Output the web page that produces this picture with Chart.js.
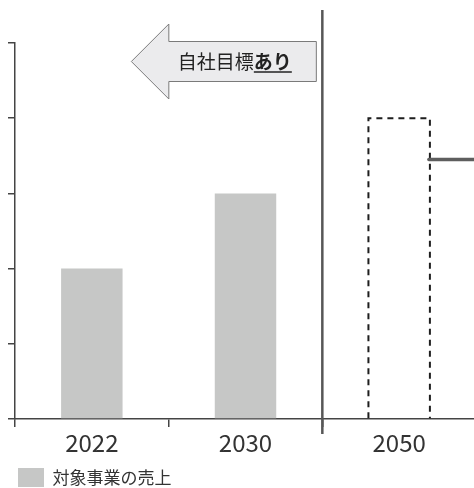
<!DOCTYPE html>
<html>
<head>
<meta charset="utf-8">
<script src="https://cdn.jsdelivr.net/npm/chart.js@4"></script>
<style>
html, body { margin: 0; padding: 0; overflow: hidden; background: #fff; }
canvas { display: block; }
</style>
</head>
<body>
<canvas id="salesChart" width="478" height="497"></canvas>
<script>
const years = ['2022', '2030', '2050'];
const salesValues = [2, 3, null];     // 対象事業の売上
const targetValues = [null, null, 4]; // 2050 target (dashed)
const yTicks = [0, 1, 2, 3, 4, 5];
const connectorValue = 3.45;
const legendLabel = '対象事業の売上';
const arrowLabel = '自社目標';
const arrowLabelBold = 'あり';

const FONT = '"Noto Sans CJK JP", "Noto Sans", sans-serif';
const AXIS = '#444';

// dashed target bar, divider, connector and the arrow callout
const extrasPlugin = {
    id: 'extras',
    afterDatasetsDraw(chart) {
        const ctx = chart.ctx;
        const xScale = chart.scales.x;
        const yScale = chart.scales.y;
        const area = chart.chartArea;
        let barRight = area.right;

        ctx.save();
        ctx.strokeStyle = '#1e1e1e';
        ctx.lineWidth = 2;
        ctx.setLineDash([6, 5]);
        chart.getDatasetMeta(1).data.forEach((bar, i) => {
            if (targetValues[i] == null) return;
            const p = bar.getProps(['x', 'y', 'base', 'width'], true);
            const l = p.x - p.width / 2, r = p.x + p.width / 2;
            barRight = r;
            ctx.beginPath();
            ctx.moveTo(l, p.base);
            ctx.lineTo(l, p.y);
            ctx.lineTo(r, p.y);
            ctx.lineTo(r, p.base);
            ctx.stroke();
        });
        ctx.setLineDash([]);

        // connector going off to the right
        const cy = yScale.getPixelForValue(connectorValue);
        ctx.strokeStyle = '#5e5e5e';
        ctx.lineWidth = 3.5;
        ctx.lineCap = 'round';
        ctx.beginPath();
        ctx.moveTo(barRight - 1, cy);
        ctx.lineTo(chart.width, cy);
        ctx.stroke();

        // divider between 2030 and 2050
        const xd = xScale.getPixelForValue(1.5);
        ctx.lineCap = 'butt';
        ctx.strokeStyle = '#575757';
        ctx.lineWidth = 2.5;
        ctx.beginPath();
        ctx.moveTo(xd, 10);
        ctx.lineTo(xd, area.bottom + 15);
        ctx.stroke();

        // left arrow
        const right = xd - 6, tip = xd - 191, ay = 61.5;
        const headX = tip + 37.5;
        ctx.beginPath();
        ctx.moveTo(tip, ay);
        ctx.lineTo(headX, ay - 37.5);
        ctx.lineTo(headX, ay - 20);
        ctx.lineTo(right, ay - 20);
        ctx.lineTo(right, ay + 20);
        ctx.lineTo(headX, ay + 20);
        ctx.lineTo(headX, ay + 37.5);
        ctx.closePath();
        ctx.fillStyle = '#ebebed';
        ctx.fill();
        ctx.strokeStyle = '#7a7a7a';
        ctx.lineWidth = 1;
        ctx.stroke();

        ctx.fillStyle = '#222';
        ctx.textBaseline = 'middle';
        ctx.textAlign = 'left';
        const tx = headX + 9;
        ctx.font = '19px ' + FONT;
        ctx.fillText(arrowLabel, tx, ay);
        const w1 = ctx.measureText(arrowLabel).width;
        ctx.font = 'bold 19px ' + FONT;
        ctx.fillText(arrowLabelBold, tx + w1, ay);
        const w2 = ctx.measureText(arrowLabelBold).width;
        ctx.strokeStyle = '#222';
        ctx.lineWidth = 1.5;
        ctx.beginPath();
        ctx.moveTo(tx + w1, ay + 10.5);
        ctx.lineTo(tx + w1 + w2, ay + 10.5);
        ctx.stroke();
        ctx.restore();
    }
};

new Chart(document.getElementById('salesChart'), {
    type: 'bar',
    data: {
        labels: years,
        datasets: [{
            label: legendLabel,
            data: salesValues,
            backgroundColor: '#c6c7c6',
            borderWidth: 0,
            grouped: false
        }, {
            label: '2050',
            data: targetValues,
            backgroundColor: 'rgba(0,0,0,0)',
            borderWidth: 0,
            grouped: false
        }]
    },
    options: {
        responsive: false,
        animation: false,
        devicePixelRatio: 1,
        categoryPercentage: 1,
        barPercentage: 0.4,
        layout: { padding: { top: 43, left: 8, right: 2, bottom: 0 } },
        scales: {
            x: {
                grid: { drawOnChartArea: false, tickLength: 8, color: AXIS, lineWidth: 1.5 },
                border: { color: AXIS, width: 1.5 },
                ticks: { color: '#333', padding: 12.5, font: { family: FONT, size: 24, lineHeight: 0.25 } }
            },
            y: {
                min: yTicks[0],
                max: yTicks[yTicks.length - 1],
                grid: { drawOnChartArea: false, tickLength: 7, color: AXIS, lineWidth: 1.5 },
                border: { color: AXIS, width: 1.5 },
                ticks: { display: false, stepSize: 1 }
            }
        },
        plugins: {
            legend: {
                position: 'bottom',
                align: 'start',
                labels: {
                    filter: item => item.datasetIndex === 0,
                    boxWidth: 26,
                    boxHeight: 19,
                    padding: 10,
                    color: '#333',
                    font: { family: FONT, size: 17 }
                }
            },
            tooltip: { enabled: false }
        }
    },
    plugins: [extrasPlugin]
});
</script>
</body>
</html>
